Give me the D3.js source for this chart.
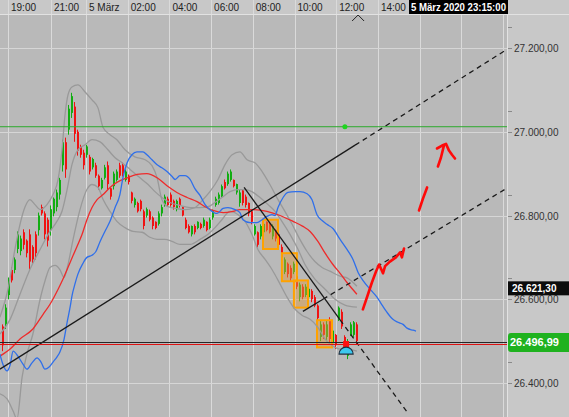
<!DOCTYPE html>
<html>
<head>
<meta charset="utf-8">
<title>Dow Jones 5 März 2020</title>
<script src="https://d3js.org/d3.v7.min.js"></script>
<style>
  body { margin: 0; background: #c6c6c6; }
  svg { display: block; font-family: "Liberation Sans", Arial, sans-serif; }
</style>
</head>
<body>
<div id="chart"></div>
<script>
// candles, one value per bar from left to right
var candleHigh = [26540,26588,26652,26676,26700,26762,26752,26767,26743,26767,
  26729,26762,26807,26826,26810,26795,26824,26843,26862,26890,
  26981,26986,27064,27093,27071,27005,26969,26957,26969,26945,
  26938,26926,26898,26890,26921,26929,26867,26905,26910,26926,
  26926,26910,26898,26857,26843,26833,26838,26814,26819,26814,
  26798,26786,26810,26826,26850,26845,26855,26838,26838,26843,
  26821,26795,26779,26776,26779,26786,26783,26795,26786,26795,
  26814,26845,26855,26874,26886,26905,26910,26886,26876,26862,
  26862,26850,26831,26814,26779,26762,26779,26786,26786,26783,
  26779,26767,26757,26731,26700,26688,26681,26690,26660,26640,
  26636,26636,26629,26624,26610,26588,26548,26545,26548,26557,
  26529,26517,26583,26576,26514,26505,26545,26548,26545];
var candleLow = [26476,26529,26600,26640,26662,26710,26705,26719,26700,26671,
  26686,26695,26752,26800,26743,26726,26752,26798,26810,26838,
  26905,26890,26993,27033,26976,26943,26938,26910,26938,26898,
  26910,26890,26862,26862,26886,26862,26838,26862,26881,26890,
  26893,26881,26874,26829,26819,26807,26810,26767,26795,26786,
  26767,26767,26776,26798,26821,26821,26821,26814,26810,26819,
  26798,26767,26757,26750,26755,26767,26767,26771,26762,26767,
  26790,26821,26826,26843,26862,26871,26881,26867,26850,26821,
  26824,26819,26798,26779,26752,26724,26743,26752,26762,26757,
  26743,26738,26724,26695,26660,26652,26643,26660,26624,26595,
  26600,26605,26600,26593,26581,26548,26500,26505,26500,26495,
  26486,26481,26548,26529,26490,26457,26512,26510,26493];
var candleOpen = [26535,26540,26610,26670,26670,26720,26715,26760,26740,26755,
  26725,26755,26765,26820,26805,26790,26765,26805,26820,26850,
  26920,26975,27005,27045,27060,27000,26965,26950,26945,26940,
  26915,26920,26895,26865,26890,26920,26865,26870,26885,26920,
  26920,26885,26895,26855,26825,26830,26835,26810,26800,26810,
  26795,26785,26780,26805,26825,26840,26850,26835,26815,26840,
  26820,26790,26775,26755,26775,26770,26780,26775,26785,26770,
  26795,26825,26830,26845,26880,26875,26885,26885,26855,26830,
  26860,26845,26830,26810,26755,26760,26750,26760,26785,26780,
  26750,26765,26755,26725,26665,26685,26675,26665,26655,26605,
  26630,26610,26605,26620,26605,26585,26510,26540,26510,26550,
  26495,26515,26555,26570,26510,26465,26515,26515,26540];
var candleClose = [26490,26580,26645,26645,26695,26755,26745,26730,26710,26690,
  26695,26710,26800,26805,26755,26740,26815,26840,26855,26885,
  26975,26910,27055,27085,26995,26955,26945,26920,26965,26905,
  26935,26895,26870,26885,26915,26875,26845,26900,26905,26895,
  26900,26905,26880,26835,26840,26810,26815,26775,26815,26790,
  26775,26770,26805,26820,26845,26825,26825,26820,26835,26825,
  26800,26770,26760,26775,26760,26785,26770,26790,26765,26790,
  26810,26840,26850,26870,26865,26900,26905,26870,26875,26855,
  26830,26825,26805,26785,26775,26730,26775,26780,26765,26760,
  26775,26745,26730,26700,26695,26660,26650,26685,26630,26635,
  26605,26630,26625,26600,26585,26555,26540,26515,26540,26505,
  26525,26490,26580,26535,26495,26500,26540,26545,26500];

// indicator lines as [bar index, price]
var blueLine = [[-0.7,26469],[0.3,26445],[1.7,26429],[2.7,26443],[3.7,26476],[5.3,26464],[7,26445],[8.3,26433],
  [10,26448],[11.7,26460],[13,26450],[14.3,26433],[15.7,26438],[17,26450],[18.3,26462],[19.3,26474],
  [20.7,26505],[21.7,26545],[22.7,26581],[23.3,26607],[24.3,26636],[25.3,26660],[27,26686],[28.3,26700],
  [30,26705],[31.3,26714],[32.7,26738],[34.3,26762],[36,26786],[37.7,26819],[39.3,26850],[40.3,26890],
  [41.7,26926],[43.3,26945],[45,26952],[47,26952],[48.3,26945],[50,26933],[51.7,26921],[53.3,26914],
  [55,26905],[56.7,26893],[57.7,26886],[59.3,26895],[61,26895],[62.7,26886],[64.3,26864],[66,26848],
  [67.7,26826],[69.3,26814],[71.7,26805],[73.7,26817],[75.3,26819],[77.7,26814],[79.3,26807],[80.3,26790],
  [82.7,26783],[85,26783],[86.7,26790],[88.3,26798],[90,26802],[91,26800],[92,26819],[93.7,26843],
  [95.3,26855],[97.7,26857],[99.3,26857],[101.7,26852],[103.3,26838],[105,26802],[106.7,26788],[108.3,26779],
  [110.3,26769],[112.7,26743],[115,26719],[117,26695],[118.7,26664],[120.3,26645],[122.7,26624],[125,26605],
  [126.7,26586],[128.3,26569],[130.3,26552],[132,26545],[133.7,26540],[135,26531],[137,26526],[138,26524]];
var redLine = [[-0.7,26464],[2.7,26481],[6,26505],[10.3,26529],[13.7,26564],[16,26588],[18.7,26624],[20.3,26648],
  [22.7,26688],[25,26726],[26.7,26755],[28.3,26790],[30,26819],[31.7,26838],[33.7,26850],[36,26867],
  [38.3,26879],[41.7,26890],[45,26898],[48.3,26900],[51.7,26890],[55,26871],[58.3,26855],[61.7,26843],
  [65,26833],[67.7,26821],[70.3,26812],[73.7,26807],[77,26810],[79.3,26814],[83.7,26814],[88.3,26810],
  [92.7,26800],[97,26786],[100.3,26774],[102.7,26762],[105.3,26738],[107.7,26710],[110.3,26683],[112.7,26662],
  [115,26640],[118.3,26612]];
var bandUpper = [[-0.7,26557],[2,26624],[4.3,26719],[6,26779],[7.7,26821],[9.3,26838],[11,26826],[12.7,26814],
  [15,26826],[17,26850],[18.7,26886],[20,26957],[21,27040],[22,27088],[23.3,27107],[25.3,27112],
  [27.7,27095],[30,27076],[32,27057],[33.7,27010],[36,26993],[38.3,26981],[41,26957],[44.3,26940],
  [47.7,26933],[50,26919],[51.7,26890],[53.3,26838],[55.3,26821],[58,26817],[61,26814],[64.3,26819],
  [67,26838],[69.3,26857],[72,26886],[74.3,26921],[76.7,26945],[79.3,26952],[81.7,26933],[84.3,26926],
  [86.7,26905],[89.3,26874],[92,26838],[94.3,26810],[96.7,26779],[99.3,26743],[101.7,26714],[104.3,26690],
  [106.7,26676],[109.3,26667],[112.7,26655],[115.3,26650],[118.3,26631]];
var bandMiddle = [[-0.7,26517],[2.7,26552],[6,26612],[9.3,26671],[12.7,26719],[16,26762],[18.3,26786],[20,26810],
  [21.7,26862],[23.3,26921],[25.3,26957],[27.7,26969],[30,26981],[32.7,26976],[35.3,26957],[37.7,26938],
  [40,26926],[42.7,26910],[46,26890],[48.7,26874],[51,26857],[53.3,26843],[56,26831],[59.3,26824],
  [62.7,26819],[66,26819],[68.7,26821],[71,26831],[73.3,26843],[76,26857],[78.7,26862],[81,26862],
  [83.3,26857],[86,26843],[88.7,26826],[91,26810],[93.3,26786],[96,26755],[98.7,26719],[101,26683],
  [104.3,26648],[107.7,26624],[111,26600],[114.3,26586],[118.3,26581]];
var bandLower = [[-0.7,26374],[1.7,26362],[3.7,26333],[5,26314],[6.7,26414],[8.3,26469],[10.3,26517],[12.7,26600],
  [14.3,26643],[16,26676],[17.7,26681],[19.3,26671],[20.7,26652],[22,26683],[23.7,26743],[26,26814],
  [28.3,26862],[30,26874],[32,26867],[33.7,26838],[36,26810],[38.3,26786],[41,26771],[43.7,26762],
  [46.7,26760],[49.3,26748],[51.7,26743],[54.3,26743],[56.7,26738],[59.3,26731],[62.7,26731],[66,26743],
  [68.7,26755],[71,26771],[73.3,26790],[76,26810],[78.7,26802],[81,26786],[83.3,26755],[85.3,26719],
  [87.7,26695],[90,26671],[92.7,26636],[95,26605],[97.7,26576],[100,26562],[102.7,26552],[105.3,26533],
  [107.7,26505],[110.3,26488],[112.7,26481],[115.3,26481],[118.3,26476]];

// trend lines: two anchors [bar index, price] and the bar index the dashed part runs to
var trendStart = [[-0.7,26433],[80.7,26867],[100.3,26571]];
var trendSolidEnd = [[117.7,26968],[112.7,26551],[107,26600]];
var trendRayEnd = [168.3,135.3,168.3];

// highlighted boxes
var boxFrom = [87,93.3,97.3,105];
var boxTo = [92,98.3,102,110];
var boxHigh = [26790,26710,26645,26550];
var boxLow = [26720,26643,26580,26485];

// hand drawn red strokes [bar index, price]
var strokes = [
  [[120.3,26576],[122,26612],[123.3,26640],[124.7,26667],[125.7,26683],[127,26662],[127.7,26679],[129.3,26690],[131.3,26700],[132.7,26712],[133.3,26700],[134,26721]],
  [[139,26812],[140.3,26840],[141.7,26867]],
  [[145.3,26917],[146.3,26938],[147.3,26967]],
  [[145,26960],[146.7,26967],[148,26971],[149,26955],[150,26945],[151,26936]]
];

// price levels
var yTicks = [26400,26600,26800,27000,27200];
var yMinorTicks = [26450,26650,26850,27050,27250];
var greenLevel = 27012;
var greenDot = [114.3, 27012];
var lastPrice = 26496.99;
var bidLevel = 26492;
var markerPrice = 26621.30;
var signalBar = 114.7, signalPrice = 26469, squarePrice = 26493;
var cursorBar = 118.7;

// time axis
var parseT = d3.timeParse("%Y-%m-%dT%H:%M");
var timeBreaks = ["2020-03-04T19:00","2020-03-04T21:00","2020-03-05T00:00","2020-03-05T20:00"].map(parseT);
var timeTicks = ["2020-03-04T19:00","2020-03-04T21:00","2020-03-05T00:00","2020-03-05T02:00","2020-03-05T04:00",
  "2020-03-05T06:00","2020-03-05T08:00","2020-03-05T10:00","2020-03-05T12:00","2020-03-05T14:00",
  "2020-03-05T16:00","2020-03-05T18:00","2020-03-05T20:00"].map(parseT);
var timeLabels = timeTicks.slice(0, 10); // later ones sit under the cursor box
var cursorTime = new Date(2020, 2, 5, 23, 15, 0);

var width = 569, height = 417;
var plotRight = 507, plotTop = 15;

var svg = d3.select("#chart").append("svg")
  .attr("width", width)
  .attr("height", height);

var x = d3.scaleLinear().domain([0, candleHigh.length - 1]).range([2, 356]);
var y = d3.scaleLinear().domain([26400, 27200]).range([383, 48]);
var t = d3.scaleTime().domain(timeBreaks).range([8, 51, 86, 503]);

var deFormat = d3.formatLocale({decimal: ",", thousands: ".", grouping: [3], currency: ["", "€"]}).format(",.2f");

svg.append("defs").append("clipPath").attr("id", "plot")
  .append("rect").attr("x", 0).attr("y", plotTop).attr("width", plotRight).attr("height", height - plotTop);

// backgrounds
svg.append("rect").attr("width", width).attr("height", height).attr("fill", "#c8c8c8");
svg.append("rect").attr("x", 0).attr("y", plotTop).attr("width", plotRight).attr("height", height - plotTop).attr("fill", "#b9b9b9");

// grid
svg.append("g").selectAll("line").data(timeTicks).join("line")
  .attr("x1", function (d) { return Math.round(t(d)) + 0.5; })
  .attr("x2", function (d) { return Math.round(t(d)) + 0.5; })
  .attr("y1", 0).attr("y2", height)
  .attr("stroke", "#dadada");
svg.append("g").selectAll("line").data(yTicks).join("line")
  .attr("x1", 0).attr("x2", plotRight)
  .attr("y1", function (d) { return Math.round(y(d)) + 0.5; })
  .attr("y2", function (d) { return Math.round(y(d)) + 0.5; })
  .attr("stroke", "#d6d6d6");
svg.append("line").attr("x1", 0).attr("x2", width).attr("y1", 14.5).attr("y2", 14.5).attr("stroke", "#e2e2e2");
svg.append("line").attr("x1", plotRight + 0.5).attr("x2", plotRight + 0.5).attr("y1", 0).attr("y2", height).attr("stroke", "#e2e2e2");

var plot = svg.append("g").attr("clip-path", "url(#plot)");

// candles
var bars = d3.range(candleHigh.length);
var colorOf = function (i) { return candleClose[i] >= candleOpen[i] ? "#12ad12" : "#f01212"; };
plot.append("g").selectAll("line").data(bars).join("line")
  .attr("x1", function (i) { return Math.round(x(i)) + 0.5; })
  .attr("x2", function (i) { return Math.round(x(i)) + 0.5; })
  .attr("y1", function (i) { return y(candleHigh[i]); })
  .attr("y2", function (i) { return y(candleLow[i]); })
  .attr("stroke", colorOf);
plot.append("g").selectAll("rect").data(bars).join("rect")
  .attr("x", function (i) { return Math.round(x(i)); })
  .attr("width", 2)
  .attr("y", function (i) { return y(Math.max(candleOpen[i], candleClose[i])); })
  .attr("height", function (i) { return Math.max(1, Math.abs(y(candleOpen[i]) - y(candleClose[i]))); })
  .attr("fill", colorOf);

// highlight boxes
plot.append("g").selectAll("rect").data(boxFrom).join("rect")
  .attr("x", function (d, i) { return x(boxFrom[i]); })
  .attr("width", function (d, i) { return x(boxTo[i]) - x(boxFrom[i]); })
  .attr("y", function (d, i) { return y(boxHigh[i]); })
  .attr("height", function (d, i) { return y(boxLow[i]) - y(boxHigh[i]); })
  .attr("fill", "#e39a3c").attr("fill-opacity", 0.45)
  .attr("stroke", "#ffa200").attr("stroke-width", 2);

// indicator lines
var line = d3.line()
  .x(function (d) { return x(d[0]); })
  .y(function (d) { return y(d[1]); })
  .curve(d3.curveMonotoneX);
[bandUpper, bandMiddle, bandLower].forEach(function (band) {
  plot.append("path").datum(band).attr("d", line)
    .attr("fill", "none").attr("stroke", "#999999").attr("stroke-width", 1.3);
});
plot.append("path").datum(redLine).attr("d", line)
  .attr("fill", "none").attr("stroke", "#ee2b2b").attr("stroke-width", 1.3);
plot.append("path").datum(blueLine).attr("d", line)
  .attr("fill", "none").attr("stroke", "#2f6fea").attr("stroke-width", 1.3);

// trend lines with dashed rays
trendStart.forEach(function (a, i) {
  var b = trendSolidEnd[i];
  var slope = (b[1] - a[1]) / (b[0] - a[0]);
  var endPrice = b[1] + slope * (trendRayEnd[i] - b[0]);
  plot.append("line")
    .attr("x1", x(a[0])).attr("y1", y(a[1]))
    .attr("x2", x(b[0])).attr("y2", y(b[1]))
    .attr("stroke", "#1a1a1a").attr("stroke-width", 1.3);
  plot.append("line")
    .attr("x1", x(b[0])).attr("y1", y(b[1]))
    .attr("x2", x(trendRayEnd[i])).attr("y2", y(endPrice))
    .attr("stroke", "#1a1a1a").attr("stroke-width", 1.3)
    .attr("stroke-dasharray", "5,4");
});

// level lines
plot.append("line").attr("x1", 0).attr("x2", plotRight)
  .attr("y1", y(greenLevel)).attr("y2", y(greenLevel))
  .attr("stroke", "#2caa2c");
plot.append("circle").attr("cx", x(greenDot[0])).attr("cy", y(greenDot[1])).attr("r", 2.5).attr("fill", "#1fd51f");
plot.append("line").attr("x1", 0).attr("x2", plotRight)
  .attr("y1", Math.round(y(lastPrice)) + 0.5).attr("y2", Math.round(y(lastPrice)) + 0.5)
  .attr("stroke", "#262626");
plot.append("line").attr("x1", 0).attr("x2", plotRight)
  .attr("y1", Math.round(y(bidLevel)) + 0.5).attr("y2", Math.round(y(bidLevel)) + 0.5)
  .attr("stroke", "#dd1111");

// red hand strokes
var strokeLine = d3.line()
  .x(function (d) { return x(d[0]); })
  .y(function (d) { return y(d[1]); });
plot.append("g").selectAll("path").data(strokes).join("path")
  .attr("d", strokeLine)
  .attr("fill", "none").attr("stroke", "#ff0a0a").attr("stroke-width", 2.6)
  .attr("stroke-linecap", "round").attr("stroke-linejoin", "round");

// signal marker
var sx = x(signalBar), sy = y(signalPrice);
plot.append("rect").attr("x", x(signalBar) - 3).attr("y", y(squarePrice) - 3)
  .attr("width", 6).attr("height", 6).attr("fill", "#ff1010");
plot.append("path")
  .attr("d", "M" + (sx - 7) + "," + sy + " A7,7 0 0 1 " + (sx + 7) + "," + sy + " Z")
  .attr("fill", "#3cc8ee").attr("stroke", "#203040").attr("stroke-width", 1.2);

// top time axis
svg.append("g").selectAll("text").data(timeLabels).join("text")
  .attr("x", function (d) { return t(d) + 3; })
  .attr("y", 11)
  .attr("font-size", 10)
  .attr("fill", "#222")
  .text(function (d) { return d.getHours() === 0 ? d.getDate() + " März" : d3.timeFormat("%H:%M")(d); });
var cx = x(cursorBar);
svg.append("path").attr("d", "M" + (cx - 6) + ",21 L" + cx + ",15 L" + (cx + 6) + ",21")
  .attr("fill", "none").attr("stroke", "#222");
svg.append("rect").attr("x", 409).attr("y", 0).attr("width", 99).attr("height", 14).attr("fill", "#000");
svg.append("text").attr("x", 458.5).attr("y", 11).attr("text-anchor", "middle")
  .attr("font-size", 10.5).attr("font-weight", "bold").attr("fill", "#fff")
  .attr("textLength", 95).attr("lengthAdjust", "spacingAndGlyphs")
  .text(d3.timeFormat("%-d März %Y %H:%M:%S")(cursorTime));

// right price axis
svg.append("g").selectAll("line").data(yTicks.concat(yMinorTicks)).join("line")
  .attr("x1", plotRight + 1).attr("x2", plotRight + 5)
  .attr("y1", function (d) { return Math.round(y(d)) + 0.5; })
  .attr("y2", function (d) { return Math.round(y(d)) + 0.5; })
  .attr("stroke", "#8a8a8a");
svg.append("g").selectAll("text").data(yTicks).join("text")
  .attr("x", 514)
  .attr("y", function (d) { return y(d) + 4; })
  .attr("font-size", 10)
  .attr("fill", "#333")
  .text(deFormat);

svg.append("rect").attr("x", 508).attr("y", y(markerPrice) - 9).attr("width", 61).attr("height", 14).attr("fill", "#0c0c0c");
svg.append("text").attr("x", 512).attr("y", y(markerPrice) + 2)
  .attr("font-size", 10).attr("font-weight", "bold").attr("fill", "#fff")
  .text(deFormat(markerPrice));

svg.append("rect").attr("x", 508).attr("y", y(lastPrice) - 9.5).attr("width", 65).attr("height", 19)
  .attr("rx", 3).attr("fill", "#1fb21f");
svg.append("text").attr("x", 510).attr("y", y(lastPrice) + 4)
  .attr("font-size", 11).attr("font-weight", "bold").attr("fill", "#fff")
  .text(deFormat(lastPrice));
</script>
</body>
</html>
